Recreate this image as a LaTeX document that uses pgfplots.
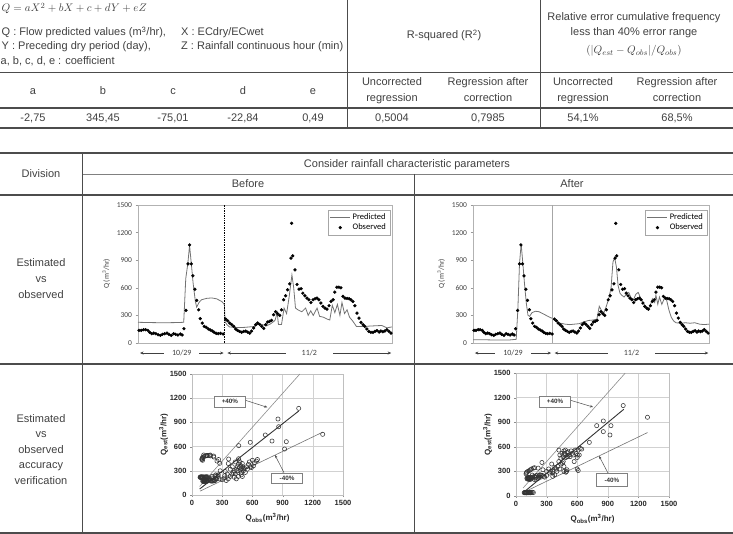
\documentclass[border=0pt]{standalone}
\usepackage{pgfplots}
\pgfplotsset{compat=1.18}
\usepackage{pgfplotstable}
\usepackage{fontspec}
\setmainfont{Liberation Sans}
\newfontfamily\carl{Carlito}
\usetikzlibrary{arrows.meta}
\definecolor{txt}{gray}{0.25}
\definecolor{rul}{gray}{0.3}

\pgfplotstableread{
x y
0.4 137
1.3 137
2.2 145
3.0 145
3.9 137
4.6 116
5.4 101
6.2 108
7.0 101
7.9 90
8.8 83
9.6 94
10.5 101
11.4 108
12.2 94
13.1 83
14.0 101
14.8 94
15.7 87
16.7 98
17.4 87
18.1 155
18.9 354
19.7 860
20.3 1066
21.0 860
21.6 730
22.4 585
23.1 463
23.9 361
24.5 264
25.3 217
26.1 181
26.9 170
27.7 152
28.5 141
29.3 130
30.0 116
30.8 105
31.6 101
32.5 105
33.5 98
34.5 260
35.3 242
36.1 217
36.9 199
37.7 181
38.4 152
39.2 137
40.0 126
40.8 116
41.6 126
42.4 130
43.2 119
44.0 108
44.7 130
45.5 163
46.3 199
47.1 217
47.9 202
48.7 181
49.5 159
50.3 199
51.0 228
51.8 235
52.6 246
53.4 307
54.2 340
55.0 318
55.8 300
56.5 361
57.3 470
58.1 513
58.9 578
59.7 643
60.2 922
60.5 1301
60.9 947
61.8 795
62.6 636
63.4 585
64.2 590
64.9 542
65.7 513
66.5 488
67.3 470
68.1 440
68.9 470
69.7 481
70.5 488
71.2 470
72.0 434
72.8 398
73.6 379
74.4 368
75.2 405
76.0 452
76.8 470
77.5 553
78.3 607
79.1 607
79.9 600
80.7 506
81.5 488
82.3 484
83.1 481
83.8 470
84.6 452
85.4 405
86.2 325
87.0 271
87.8 224
88.6 199
89.3 181
90.1 152
90.9 126
91.7 116
92.5 116
93.3 126
94.1 134
94.9 119
95.6 130
96.4 123
97.2 130
98.0 145
98.8 126
99.6 108
}\obs

\pgfplotstableread{
x y
0 225
5 222
10 220
15 222
18 225
18.8 700
19.6 860
20.3 1060
21.0 860
21.7 650
22.6 450
23.1 390
24 440
25 470
27 485
29 490
31 480
33 450
34 420
34.3 230
35 200
36 175
38 170
40 168
42 170
44 175
46 180
47.5 210
49 200
50.5 185
52 205
53.5 235
54 250
54.8 330
55.3 200
56.5 200
57.5 380
58.5 320
59.5 500
60.6 740
61.3 600
62 380
63 360
64.5 340
66 380
67 300
68 350
69 300
70.5 380
71.5 290
73 280
74.5 260
75.5 250
76.5 410
77.5 330
78.5 420
79.5 300
80.3 440
81.3 320
82.3 360
83.3 280
84.5 240
86 180
88 180
90 182
92 185
94 188
96 190
98 165
100 175
}\predB

\pgfplotstableread{
x y
0 35
5 35
10 32
15 32
18.3 40
19.0 360
19.7 860
20.4 1080
21.1 870
21.8 650
22.6 430
23.3 300
24.0 290
25 330
26.5 345
28 340
29.5 320
31 300
32.5 280
33.8 265
34.5 250
35.5 230
37 215
39 205
41 200
43 205
45 210
47 230
49 245
51 250
52.5 260
53.5 400
54.5 350
55.5 330
56.5 400
57.5 480
58.5 600
59.3 880
60 930
60.8 820
61.5 620
62.3 540
63 520
64 500
65 530
66 550
67 490
68 470
69 530
70 550
71 490
72 440
73 400
74 360
75 400
76 480
77 440
77.5 520
78.3 420
79 500
80 420
81 480
82 470
83 360
84 280
85 240
86 220
88 215
90 220
92 215
94 220
96 205
98 200
100 205
}\predA

\pgfplotstableread{
x y
80 220
85 225
90 222
95 220
98 225
101 222
105 220
108 222
115 225
125 222
130 220
137 225
140 222
145 225
94 222
87 218
83 220
100 218
155 225
116 170
126 172
137 170
152 172
181 175
199 170
217 175
242 200
260 230
108 168
130 178
119 170
126 182
163 185
199 210
217 190
202 180
181 200
159 205
199 230
228 235
235 250
246 240
116 185
134 188
119 190
130 190
123 175
130 165
145 170
108 178
152 180
181 182
224 180
271 200
325 240
463 450
361 390
264 440
217 470
181 485
170 490
152 490
141 487
130 482
116 475
105 465
101 455
98 440
105 430
99 446
116 496
149 488
182 496
215 483
248 421
275 393
364 446
464 612
579 653
728 744
795 669
854 942
861 847
1060 1074
937 661
920 570
1298 752
300 190
320 210
340 180
360 200
380 230
395 260
410 280
420 300
430 260
440 320
450 350
455 300
460 380
470 340
475 400
480 310
485 360
490 280
495 330
500 390
505 350
510 300
520 330
530 280
540 350
550 320
560 380
570 410
580 350
590 340
600 430
610 360
620 400
640 420
650 440
400 350
380 320
430 410
470 420
490 250
500 230
460 230
440 200
420 220
350 260
330 290
280 300
260 250
240 200
230 180
}\scB

\pgfplotstableread{
x y
80 40
85 40
90 42
95 40
100 38
105 40
110 42
115 40
125 40
130 42
137 40
140 40
145 40
150 45
160 45
170 42
88 45
98 45
120 45
135 45
98 270
101 280
105 290
116 300
130 310
141 320
152 330
170 340
181 345
217 340
264 320
361 300
463 420
116 205
126 205
137 200
152 210
181 200
199 205
217 215
242 230
260 250
108 210
130 215
119 220
126 225
145 220
163 230
181 240
199 250
202 245
159 255
228 250
235 260
246 250
126 215
116 220
134 220
119 215
130 220
123 225
145 230
108 220
152 225
181 230
199 225
224 230
271 240
254 409
300 300
320 330
340 300
360 280
380 260
395 330
410 360
420 420
430 500
440 460
450 520
455 400
460 480
470 550
475 520
480 500
485 560
490 470
495 300
500 530
505 480
510 540
520 500
530 480
540 550
550 520
560 500
570 420
580 560
590 520
600 470
610 560
620 500
630 580
400 300
380 350
430 330
470 300
490 290
350 390
330 280
300 250
280 230
360 240
470 360
500 320
420 560
440 390
600 330
610 310
1051 1103
856 915
791 858
856 785
931 858
921 744
1289 960
719 654
644 572
602 499
}\scA

\tikzset{
 boxlab/.style={draw=black!50, fill=white, font=\bfseries\fontsize{6.3}{7}\selectfont, text=black!80, minimum width=31pt, minimum height=10.5pt, inner sep=0pt},
 datearrow/.style={black!75, line width=0.5pt, {Stealth[length=3.5pt,width=3pt]}-{Stealth[length=3.5pt,width=3pt]}},
 datelab/.style={midway, fill=white, inner ysep=0.5pt, font=\carl\fontsize{8}{9}\selectfont, text=black!75},
}
\pgfplotsset{
 ts/.style={scale only axis, anchor=south west, height=138pt,
   xmin=0, xmax=100, ymin=0, ymax=1500, xtick=\empty, ytick={0,300,...,1500},
   ytick pos=left, tick align=outside, major tick length=2.5pt,
   axis line style={black!30}, tick style={black!40},
   /pgf/number format/1000 sep={}, /pgf/number format/assume math mode=true,
   y tick label style={font=\carl\fontsize{7.5}{8}\selectfont, text=black!75},
   ylabel={Q (m\textsuperscript{3}/hr)},
   ylabel style={font=\carl\fontsize{7.5}{8}\selectfont, text=black!75},
   clip=false,
   legend style={at={(0.992,0.965)}, anchor=north east, draw=black!35,
     font=\carl\fontsize{8.5}{9}\selectfont, inner xsep=2pt, inner ysep=1.5pt, row sep=-1pt,
     cells={anchor=west}},
   legend image code/.code={\draw[#1] (0pt,0pt) -- (20pt,0pt);},
 },
 tsobs/.style={only marks, mark=*, mark size=1.45pt, black,
   legend image code/.code={\draw[mark repeat=2,mark phase=2] plot coordinates {(0pt,0pt) (10pt,0pt) (20pt,0pt)};}},
 sc/.style={scale only axis, anchor=south west,
   xmin=0, xmax=1500, ymin=0, ymax=1500, xtick={0,300,...,1500}, ytick={0,300,...,1500},
   grid=major, grid style={black!18, line width=0.5pt},
   axis line style={black!25}, tick style={black!45}, tick align=outside, major tick length=2pt,
   xtick pos=bottom, ytick pos=left,
   /pgf/number format/1000 sep={}, /pgf/number format/assume math mode=true,
   tick label style={font=\bfseries\fontsize{7.5}{8}\selectfont, text=black!85},
   xlabel={Q\textsubscript{obs}(m\textsuperscript{3}/hr)},
   ylabel={Q\textsubscript{est}(m\textsuperscript{3}/hr)},
   label style={font=\bfseries\fontsize{8}{9}\selectfont, text=black!85},
   ylabel shift=-5pt, xlabel shift=1pt,
   clip=false,
 },
 scpts/.style={only marks, mark=o, mark size=2.1pt, black!80, mark options={line width=0.55pt}},
}

\begin{document}
\begin{tikzpicture}
\path[use as bounding box] (0,0) rectangle (733pt,-534pt);
\begin{scope}[x=1pt, y=-1pt, every node/.style={text=txt, inner sep=0pt, font=\fontsize{11}{13}\selectfont}]
% top table rules
\draw[rul, line width=1.2pt] (0,72.7) -- (733,72.7);
\draw[rul, line width=2.6pt] (0,108) -- (733,108);
\draw[rul, line width=1.6pt] (0,128) -- (733,128);
\draw[rul, line width=0.9pt] (347,0) -- (347,128);
\draw[rul, line width=0.9pt] (540,0) -- (540,128);
% top table text
\node[anchor=base west] at (1.5,12) {$Q=aX^2+bX+c+dY+eZ$};
\node[anchor=base west] at (1.5,36) {Q : Flow predicted values (m\textsuperscript{3}/hr),};
\node[anchor=base west] at (181,36) {X : ECdry/ECwet};
\node[anchor=base west] at (1.5,50) {Y : Preceding dry period (day),};
\node[anchor=base west] at (181,50) {Z : Rainfall continuous hour (min)};
\node[anchor=base west] at (0.5,65) {a, b, c, d, e : coefficient};
\node[anchor=base] at (444,39) {R-squared (R\textsuperscript{2})};
\node[anchor=base] at (634,20.5) {Relative error cumulative frequency};
\node[anchor=base] at (634,36) {less than 40\% error range};
\node[anchor=base] at (634,53.5) {$(|Q_{est}-Q_{obs}|/Q_{obs})$};
\foreach \xx/\tt in {33/a,103/b,173/c,243/d,313/e}{\node[anchor=base] at (\xx,95) {\tt};}
\foreach \xx in {392,583}{\node[anchor=base] at (\xx,86) {Uncorrected}; \node[anchor=base] at (\xx,101.5) {regression};}
\foreach \xx in {488,677}{\node[anchor=base] at (\xx,86) {Regression after}; \node[anchor=base] at (\xx,101.5) {correction};}
\foreach \xx/\tt in {33/-2{,}75,103/345{,}45,173/-75{,}01,243/-22{,}84,313/0{,}49,392/0{,}5004,488/0{,}7985,583/54{,}1\%,677/68{,}5\%}{\node[anchor=base] at (\xx,122) {\tt};}
% bottom table rules
\draw[rul, line width=1.3pt] (0,153) -- (733,153);
\draw[black!50, line width=0.8pt] (82,174) -- (733,174);
\draw[rul, line width=2.6pt] (0,195) -- (733,195);
\draw[rul, line width=1.3pt] (0,364) -- (733,364);
\draw[rul, line width=2.4pt] (0,532.8) -- (733,532.8);
\draw[rul, line width=0.9pt] (82,153) -- (82,533);
\draw[rul, line width=0.9pt] (414,174) -- (414,533);
% bottom table text
\node[anchor=base] at (41,178) {Division};
\node[anchor=base] at (407,168) {Consider rainfall characteristic parameters};
\node[anchor=base] at (248,188) {Before};
\node[anchor=base] at (572,188) {After};
\node[anchor=base] at (41,267) {Estimated};
\node[anchor=base] at (41,283) {vs};
\node[anchor=base] at (41,299) {observed};
\node[anchor=base] at (41,422) {Estimated};
\node[anchor=base] at (41,437.5) {vs};
\node[anchor=base] at (41,453) {observed};
\node[anchor=base] at (41,468.5) {accuracy};
\node[anchor=base] at (41,484) {verification};
\end{scope}

% ---------- time series: before
\begin{axis}[ts, at={(138pt,-343pt)}, width=254pt]
\addplot[black!55, line width=0.8pt] table[x=x,y=y] {\predB};
\addlegendentry{Predicted}
\addplot[tsobs] table[x=x,y=y] {\obs};
\addlegendentry{Observed}
\draw[black, densely dotted, line width=0.7pt] (axis cs:34.1,0) -- (axis cs:34.1,1500);
\draw[datearrow] (axis cs:0.8,-109) -- (axis cs:33.7,-109) node[datelab, inner xsep=8pt] {10/29};
\draw[datearrow] (axis cs:35.2,-109) -- (axis cs:99.7,-109) node[datelab, inner xsep=16pt] {11/2};
\end{axis}

% ---------- time series: after
\begin{axis}[ts, at={(473pt,-343pt)}, width=236pt]
\addplot[black!55, line width=0.8pt] table[x=x,y=y] {\predA};
\addlegendentry{Predicted}
\addplot[tsobs] table[x=x,y=y] {\obs};
\addlegendentry{Observed}
\draw[black!35, line width=0.5pt] (axis cs:33.5,0) -- (axis cs:33.5,1500);
\draw[datearrow] (axis cs:0.8,-109) -- (axis cs:33.1,-109) node[datelab, inner xsep=8pt] {10/29};
\draw[datearrow] (axis cs:34.6,-109) -- (axis cs:99.7,-109) node[datelab, inner xsep=16pt] {11/2};
\end{axis}

% ---------- scatter: before
\begin{axis}[sc, at={(192pt,-495pt)}, width=151pt, height=121pt]
\addplot[scpts] table[x=x,y=y] {\scB};
\addplot[black!45, line width=0.6pt] coordinates {(76,106) (1070,1498)};
\addplot[black!80, line width=0.9pt] coordinates {(76,74) (1060,1041)};
\addplot[black!55, line width=0.6pt] coordinates {(80,48) (1300,780)};
\node[boxlab] at (axis cs:377,1159) {+40\%};
\draw[black!70, line width=0.5pt, -{Stealth[length=3pt,width=2.5pt]}] (axis cs:536,1172) -- (axis cs:748,1087);
\node[boxlab] at (axis cs:944,211) {-40\%};
\draw[black!70, line width=0.5pt, -{Stealth[length=3pt,width=2.5pt]}] (axis cs:914,276) -- (axis cs:824,496);
\end{axis}

% ---------- scatter: after
\begin{axis}[sc, at={(516pt,-496pt)}, width=153pt, height=123pt]
\addplot[scpts] table[x=x,y=y] {\scA};
\addplot[black!45, line width=0.6pt] coordinates {(70,98) (1070,1498)};
\addplot[black!80, line width=0.9pt] coordinates {(75,45) (1057,1058)};
\addplot[black!55, line width=0.6pt] coordinates {(70,42) (1290,774)};
\node[boxlab] at (axis cs:382,1152) {+40\%};
\draw[black!70, line width=0.5pt, -{Stealth[length=3pt,width=2.5pt]}] (axis cs:541,1165) -- (axis cs:755,1085);
\node[boxlab, minimum height=13pt] at (axis cs:941,195) {-40\%};
\draw[black!70, line width=0.5pt, -{Stealth[length=3pt,width=2.5pt]}] (axis cs:902,280) -- (axis cs:814,488);
\end{axis}
\end{tikzpicture}
\end{document}
